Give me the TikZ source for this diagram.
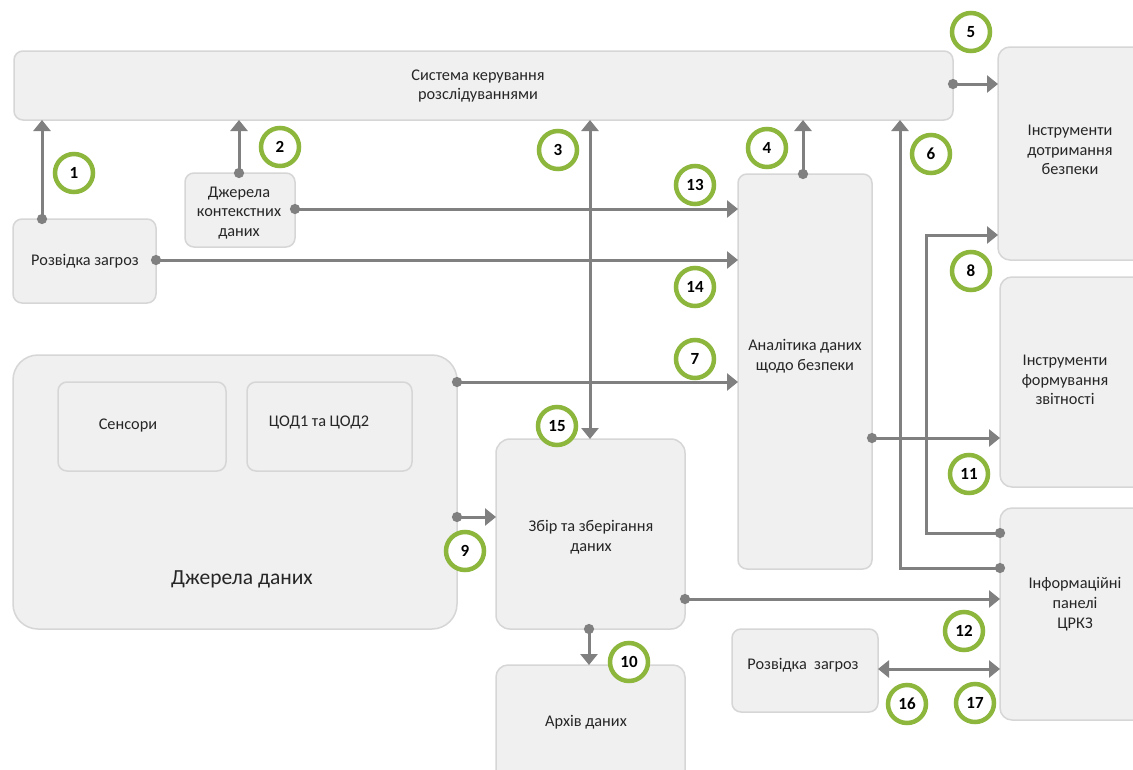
\documentclass[tikz,border=0pt]{standalone}
\usepackage{fontspec}
\setmainfont{Carlito}
\usetikzlibrary{arrows.meta}
\definecolor{boxfill}{HTML}{F0F0F0}
\definecolor{boxline}{HTML}{D6D6D6}
\definecolor{conncol}{HTML}{808080}
\definecolor{lgreen}{HTML}{8DB63C}
\definecolor{txtcol}{HTML}{262626}
\begin{document}
\begin{tikzpicture}[x=1pt,y=-1pt,
  box/.style={draw=boxline, fill=boxfill, line width=1.5pt, rounded corners=9pt, inner sep=0pt, outer sep=0pt, anchor=north west},
  txt/.style={align=center, text=txtcol, inner sep=0pt, font=\fontsize{16.3}{19.8}\selectfont},
  conn/.style={draw=conncol, line width=3pt, -{Triangle[length=11pt,width=17pt]}},
  dot/.style={{Circle[length=10pt,width=10pt]}-{Triangle[length=11pt,width=17pt]}, shorten <=-5pt},
  both/.style={{Triangle[length=11pt,width=17pt]}-{Triangle[length=11pt,width=17pt]}},
  lab/.style={circle, draw=lgreen, line width=4.5pt, fill=white, minimum size=38pt, inner sep=0pt, text=black, font=\bfseries\fontsize{17}{17}\selectfont}
]
\useasboundingbox (0,0) rectangle (1133,769);
\fill[white] (0,0) rectangle (1133,769);
\clip (0,0) rectangle (1133,769);

% boxes
\node[box, minimum width=939pt, minimum height=69pt] (sys) at (14,51) {};
\node[txt] (systxt) at (478,86) {Система керування\\розслідуваннями};

\node[box, minimum width=143pt, minimum height=84pt] (rz1) at (13,219) {};
\node[txt] (rz1txt) at (85,261) {Розвідка загроз};

\node[box, minimum width=110pt, minimum height=74pt] (djk) at (185,173) {};
\node[txt] (djktxt) at (239,213) {Джерела\\контекстних\\даних};

\node[box, minimum width=134pt, minimum height=395pt] (an) at (738,174) {};
\node[txt] (antxt) at (805,356) {Аналітика даних\\щодо безпеки};

\node[box, rounded corners=25pt, minimum width=444pt, minimum height=274pt] (dd) at (13,355) {};
\node[box, minimum width=168pt, minimum height=89pt] (sens) at (58,382) {};
\node[txt] (senstxt) at (128,426) {Сенсори};
\node[box, minimum width=165pt, minimum height=89pt] (cod) at (247,382) {};
\node[txt] (codtxt) at (319,422) {ЦОД1 та ЦОД2};
\node[txt, font=\fontsize{21.5}{25}\selectfont] (ddtxt) at (242,579) {Джерела даних};

\node[box, rounded corners=14pt, minimum width=189pt, minimum height=190pt] (zb) at (496,439) {};
\node[txt] (zbtxt) at (591,537) {Збір та зберігання\\даних};

\node[box, rounded corners=12pt, minimum width=189pt, minimum height=120pt] (arch) at (496,665) {};
\node[txt] (archtxt) at (586,722) {Архів даних};

\node[box, minimum width=146pt, minimum height=83pt] (rz2) at (732,629) {};
\node[txt] (rz2txt) at (803,665) {Розвідка\ \ загроз};

\node[box, rounded corners=12pt, minimum width=150pt, minimum height=213pt] (idb) at (998,47) {};
\node[txt] (idbtxt) at (1070,150) {Інструменти\\дотримання\\безпеки};

\node[box, rounded corners=12pt, minimum width=150pt, minimum height=210pt] (ifz) at (1000,277) {};
\node[txt] (ifztxt) at (1065,380) {Інструменти\\формування\\звітності};

\node[box, rounded corners=12pt, minimum width=150pt, minimum height=212pt] (ipc) at (1000,508) {};
\node[txt] (ipctxt) at (1075,604) {Інформаційні\\панелі\\ЦРКЗ};

% connectors
\draw[conn,dot] (42,0 |- rz1.north) -- (42,0 |- sys.south);
\draw[conn,dot] (239,0 |- djk.north) -- (239,0 |- sys.south);
\draw[conn,both] (590,0 |- zb.north) -- (590,0 |- sys.south);
\draw[conn,dot] (803,0 |- an.north) -- (803,0 |- sys.south);
\draw[conn,dot] (sys.east |- 0,84) -- (idb.west |- 0,84);
\draw[conn,dot] (ipc.west |- 0,568) -| (900,0 |- sys.south);
\draw[conn,dot] (ipc.west |- 0,533) -| (926,235) -- (idb.west |- 0,235);
\draw[conn,dot] (djk.east |- 0,209) -- (an.west |- 0,209);
\draw[conn,dot] (rz1.east |- 0,260) -- (an.west |- 0,260);
\draw[conn,dot] (dd.east |- 0,382) -- (an.west |- 0,382);
\draw[conn,dot] (dd.east |- 0,517) -- (zb.west |- 0,517);
\draw[conn,dot] (an.east |- 0,438) -- (ifz.west |- 0,438);
\draw[conn,dot] (zb.east |- 0,599) -- (ipc.west |- 0,599);
\draw[conn,dot] (589,0 |- zb.south) -- (589,0 |- arch.north);
\draw[conn,both] (rz2.east |- 0,669) -- (ipc.west |- 0,669);

% labels
\node[lab] (l1) at (74,173) {1};
\node[lab] (l2) at (280,147) {2};
\node[lab] (l3) at (558,150) {3};
\node[lab] (l4) at (767,148) {4};
\node[lab] (l5) at (971,32) {5};
\node[lab] (l6) at (931,154) {6};
\node[lab] (l7) at (695,359) {7};
\node[lab] (l8) at (971,271) {8};
\node[lab] (l9) at (465,551) {9};
\node[lab] (l10) at (629,662) {10};
\node[lab] (l11) at (969,474) {11};
\node[lab] (l12) at (964,631) {12};
\node[lab] (l13) at (695,185) {13};
\node[lab] (l14) at (695,287) {14};
\node[lab] (l15) at (557,426) {15};
\node[lab] (l16) at (907,704) {16};
\node[lab] (l17) at (975,703) {17};
\end{tikzpicture}
\end{document}
